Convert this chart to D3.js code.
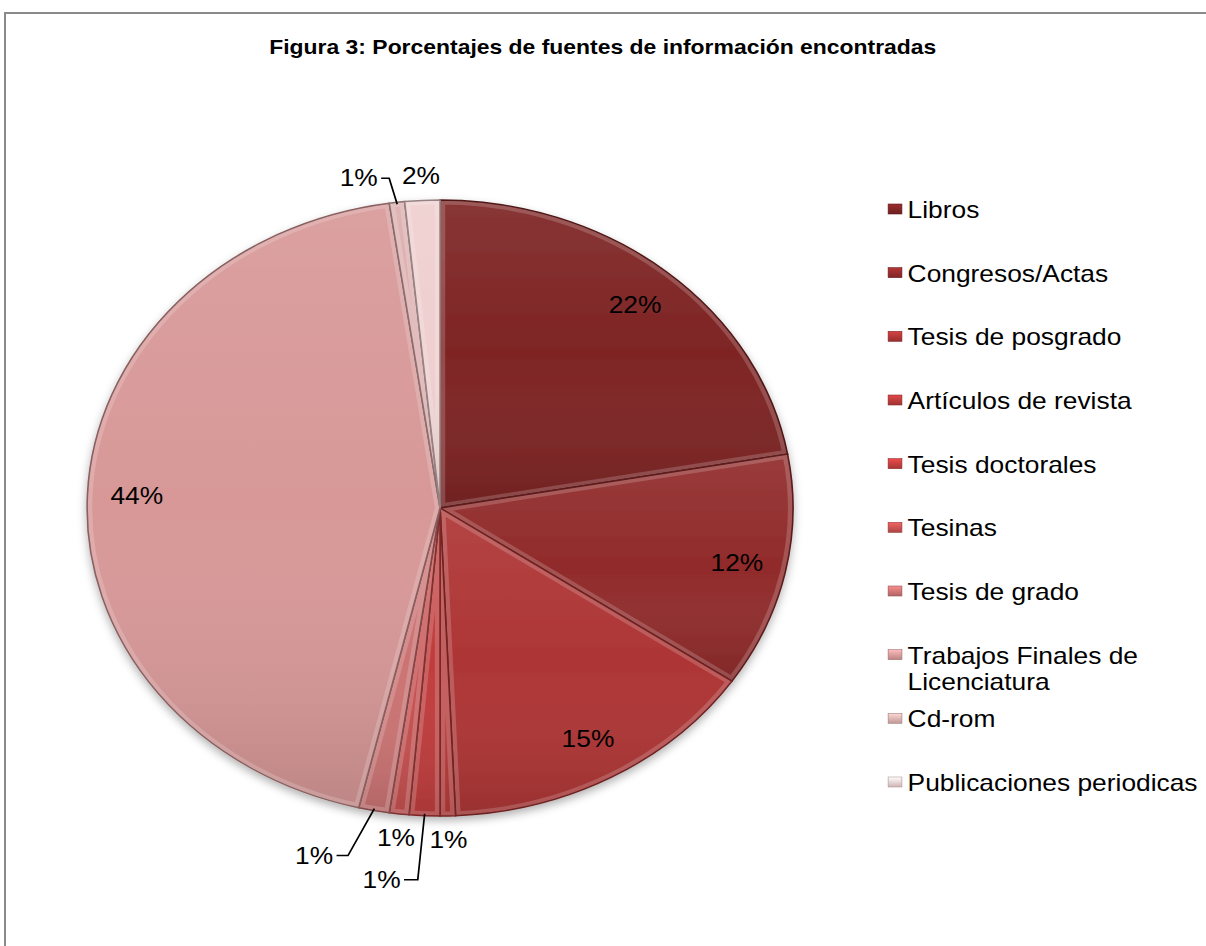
<!DOCTYPE html>
<html lang="es">
<head>
<meta charset="UTF-8">
<title>Figura 3</title>
<style>
    body { margin: 0; background: #fff; }
    text { font-family: "Liberation Sans", Arial, sans-serif; fill: #000; }
</style>
</head>
<body>
<svg id="chart" width="1206" height="946"></svg>

<script src="https://cdn.jsdelivr.net/npm/d3@7"></script>
<script>

// data (labels are the rounded values)
const categories = ["Libros", "Congresos/Actas", "Tesis de posgrado", "Artículos de revista",
    "Tesis doctorales", "Tesinas", "Tesis de grado", "Trabajos Finales de Licenciatura",
    "Cd-rom", "Publicaciones periodicas"]
const values = [22.2, 12.3, 14.8, 0.7, 1.4, 0.9, 1.4, 44.0, 0.7, 1.6]
const pctLabels = ["22%", "12%", "15%", "1%", "1%", "1%", "1%", "44%", "1%", "2%"]

const colors = ["#7e2424", "#912b2b", "#ae3535", "#b73a3a", "#c03d3d", "#c65050",
    "#cb7373", "#d89898", "#dcaeae", "#efcfcf"]

// label placement: "in" = inside, "out" = just outside, "lead" = leader line
const labelMode = ["in", "in", "in", "out", "lead", "out", "lead", "in", "lead", "out"]
const leaderOffsets = { 4: [[-6, 66], [-18, 66]], 6: [[-23, 47], [-33, 47]], 8: [[-7, -26], [-14, -26]] }

const stretch = 1.146   // the original picture is stretched horizontally
const svg = d3.select("#chart")

svg.append("rect").attr("width", 1206).attr("height", 946).attr("fill", "#fff")
svg.append("path")
    .attr("d", "M5,946 L5,13 L1206,13")
    .attr("fill", "none").attr("stroke", "#8a8a8a").attr("stroke-width", 2)

let defs = svg.append("defs")
let shade = defs.append("linearGradient").attr("id", "shade")
    .attr("x1", 0).attr("y1", 0).attr("x2", 0).attr("y2", 1)
shade.append("stop").attr("offset", "0%").attr("stop-color", "#fff").attr("stop-opacity", 0.08)
shade.append("stop").attr("offset", "50%").attr("stop-color", "#fff").attr("stop-opacity", 0)
shade.append("stop").attr("offset", "100%").attr("stop-color", "#000").attr("stop-opacity", 0.12)

let shadow = defs.append("filter").attr("id", "shadow")
    .attr("x", "-10%").attr("y", "-10%").attr("width", "120%").attr("height", "125%")
shadow.append("feDropShadow").attr("dx", 0).attr("dy", 4).attr("stdDeviation", 4)
    .attr("flood-color", "#000").attr("flood-opacity", 0.3)

let body = svg.append("g").attr("transform", `scale(${stretch},1)`)

body.append("text")
    .attr("x", 526).attr("y", 54)
    .attr("text-anchor", "middle")
    .style("font-size", "20px").style("font-weight", "bold")
    .text("Figura 3: Porcentajes de fuentes de información encontradas")

let cx = 384, cy = 508, radius = 308

let pieGenerator = d3.pie().sort(null).value(d => d)
let arcs = pieGenerator(values)

let arc = d3.arc().innerRadius(0).outerRadius(radius)

let pie = body.append("g")
    .attr("transform", `translate(${cx},${cy})`)

let slices = pie.append("g").attr("filter", "url(#shadow)")
    .selectAll("g")
    .data(arcs)
    .enter()
    .append("g")

slices.append("clipPath")
    .attr("id", (d, i) => "clip" + i)
    .append("path").attr("d", arc)

slices.append("path")
    .attr("d", arc)
    .attr("fill", (d, i) => colors[i])

slices.append("path")
    .attr("d", arc)
    .attr("fill", "url(#shade)")

// bevel-ish light edge inside each slice
slices.append("path")
    .attr("d", arc)
    .attr("clip-path", (d, i) => `url(#clip${i})`)
    .attr("fill", "none")
    .attr("stroke", "#fff").attr("stroke-opacity", 0.18).attr("stroke-width", 9)

slices.append("path")
    .attr("d", arc)
    .attr("fill", "none")
    .attr("stroke", (d, i) => d3.color(colors[i]).darker(1.3))
    .attr("stroke-width", 1.4)

// data labels
let polar = (a, r) => [r * Math.sin(a), -r * Math.cos(a)]
let labels = pie.append("g")

arcs.forEach((d, i) => {
    let mid = (d.startAngle + d.endAngle) / 2
    let mode = labelMode[i]
    if (mode == "in") {
        let p = polar(mid, radius * 0.86)
        labels.append("text")
            .attr("x", p[0]).attr("y", p[1])
            .attr("dy", "0.35em").attr("text-anchor", "middle")
            .style("font-size", "23px").text(pctLabels[i])
    } else if (mode == "out") {
        let p = polar(mid, radius + 24)
        labels.append("text")
            .attr("x", p[0]).attr("y", p[1])
            .attr("dy", "0.35em").attr("text-anchor", "middle")
            .style("font-size", "23px").text(pctLabels[i])
    } else {
        let p = polar(mid, radius - 2)
        let off = leaderOffsets[i]
        let e1 = [p[0] + off[0][0], p[1] + off[0][1]]
        let e2 = [p[0] + off[1][0], p[1] + off[1][1]]
        labels.append("path")
            .attr("d", d3.line()([p, e1, e2]))
            .attr("fill", "none").attr("stroke", "#000").attr("stroke-width", 1.5)
        labels.append("text")
            .attr("x", e2[0] - 3).attr("y", e2[1])
            .attr("dy", "0.35em").attr("text-anchor", "end")
            .style("font-size", "23px").text(pctLabels[i])
    }
})

// legend
let legendY = d3.scalePoint().domain(d3.range(categories.length)).range([210, 783])
let legend = body.append("g")
let legendGrad = defs.selectAll("linearGradient.lg")
    .data(colors).enter().append("linearGradient")
    .attr("class", "lg").attr("id", (d, i) => "lg" + i)
    .attr("x1", 0).attr("y1", 0).attr("x2", 0).attr("y2", 1)
legendGrad.append("stop").attr("offset", "0%").attr("stop-color", d => d3.color(d).brighter(0.6))
legendGrad.append("stop").attr("offset", "100%").attr("stop-color", d => d3.color(d).darker(0.4))

categories.forEach((name, i) => {
    let y = legendY(i)
    legend.append("rect")
        .attr("x", 775).attr("y", y - 6)
        .attr("width", 12).attr("height", 10)
        .attr("fill", `url(#lg${i})`)
        .attr("stroke", d3.color(colors[i]).darker(0.8)).attr("stroke-width", 0.6)
    let t = legend.append("text")
        .attr("x", 792).attr("y", y)
        .attr("dy", "0.35em")
        .style("font-size", "23px")
    // wrap long names
    let words = name.split(" ")
    let line = [], tspan = t.append("tspan").attr("x", 792)
    words.forEach(w => {
        line.push(w)
        tspan.text(line.join(" "))
        if (tspan.node().getComputedTextLength() > 262 && line.length > 1) {
            line.pop()
            tspan.text(line.join(" "))
            line = [w]
            tspan = t.append("tspan").attr("x", 792).attr("dy", "1.13em").text(w)
        }
    })
})

</script>
</body>
</html>
